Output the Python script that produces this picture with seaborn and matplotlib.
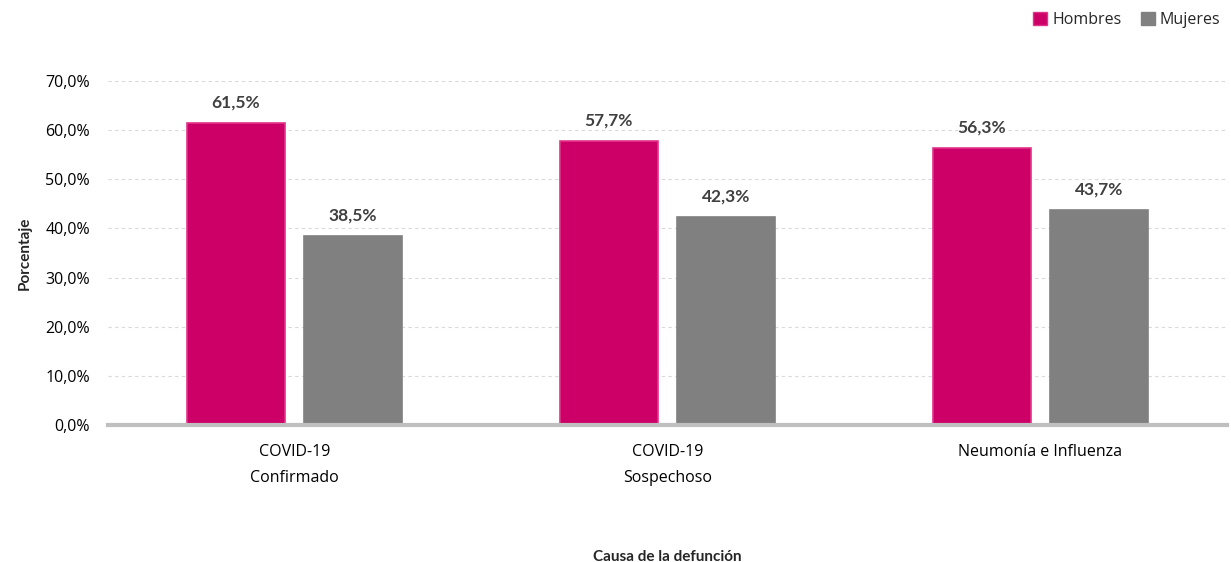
import numpy as np
import pandas as pd
import matplotlib
matplotlib.use("Agg")
import matplotlib.pyplot as plt
import seaborn as sns
from matplotlib.ticker import FuncFormatter, MultipleLocator
from matplotlib.patches import Patch

# Datos
causas = ["COVID-19\nConfirmado", "COVID-19\nSospechoso", "Neumonía e Influenza"]
hombres = [61.5, 57.7, 56.3]
mujeres = [38.5, 42.3, 43.7]
sexos = ["Hombres", "Mujeres"]
colores = {"Hombres": "#CC0066", "Mujeres": "#808080"}
bordes = {"Hombres": "#E2338A", "Mujeres": "#808080"}

df = pd.DataFrame({
    "causa": causas * 2,
    "sexo": ["Hombres"] * 3 + ["Mujeres"] * 3,
    "pct": hombres + mujeres,
})

sns.set_style("white")
plt.rcParams["font.family"] = ["Open Sans", "DejaVu Sans"]
negrita = ["Lato", "DejaVu Sans"]

fig = plt.figure(figsize=(12.31, 5.62), dpi=100)
ax = fig.add_axes([0.0877, 0.2438, 0.909, 0.6121])

sns.barplot(data=df, x="causa", y="pct", hue="sexo", hue_order=sexos,
            palette=colores, saturation=1, width=0.63, gap=0.165, ax=ax, legend=False)

for cont, s in zip(ax.containers, sexos):
    for p in cont:
        p.set_edgecolor(bordes[s])
        p.set_linewidth(1.2)
    ax.bar_label(cont, labels=[f"{v:.1f}%".replace(".", ",") for v in cont.datavalues],
                 padding=9, fontsize=12.5, fontweight="bold", color="#404040",
                 family=negrita)

ax.set_xlim(-0.5, 2.5)
ax.set_ylim(0, 70)
ax.yaxis.set_major_locator(MultipleLocator(10))
ax.yaxis.set_major_formatter(FuncFormatter(lambda v, _: f"{v:.1f}%".replace(".", ",")))
ax.grid(axis="y", color="#D9D9D9", linestyle=(0, (3, 3)), linewidth=0.8)
ax.set_axisbelow(True)

for s in ["top", "right", "left"]:
    ax.spines[s].set_visible(False)
ax.spines["bottom"].set_color("#BFBFBF")
ax.spines["bottom"].set_linewidth(3)

ax.tick_params(axis="both", length=0, labelsize=11.5, colors="#000000")
ax.tick_params(axis="x", pad=14)
ax.tick_params(axis="y", pad=13)
for t in ax.get_xticklabels():
    t.set_linespacing(1.8)

ax.set_xlabel("Causa de la defunción", fontsize=11, fontweight="bold", labelpad=46,
              family=negrita)
ax.set_ylabel("Porcentaje", fontsize=11, fontweight="bold", labelpad=10,
              family=negrita)

# Leyenda
handles = [Patch(facecolor=colores[s], edgecolor=bordes[s], label=s) for s in sexos]
fig.legend(handles=handles, loc="upper right", bbox_to_anchor=(1.003, 1.005), ncol=2,
           frameon=False, fontsize=11.5, handlelength=0.9, handleheight=0.9,
           handletextpad=0.3, columnspacing=1.2)

fig.savefig("out.png", dpi=100)
